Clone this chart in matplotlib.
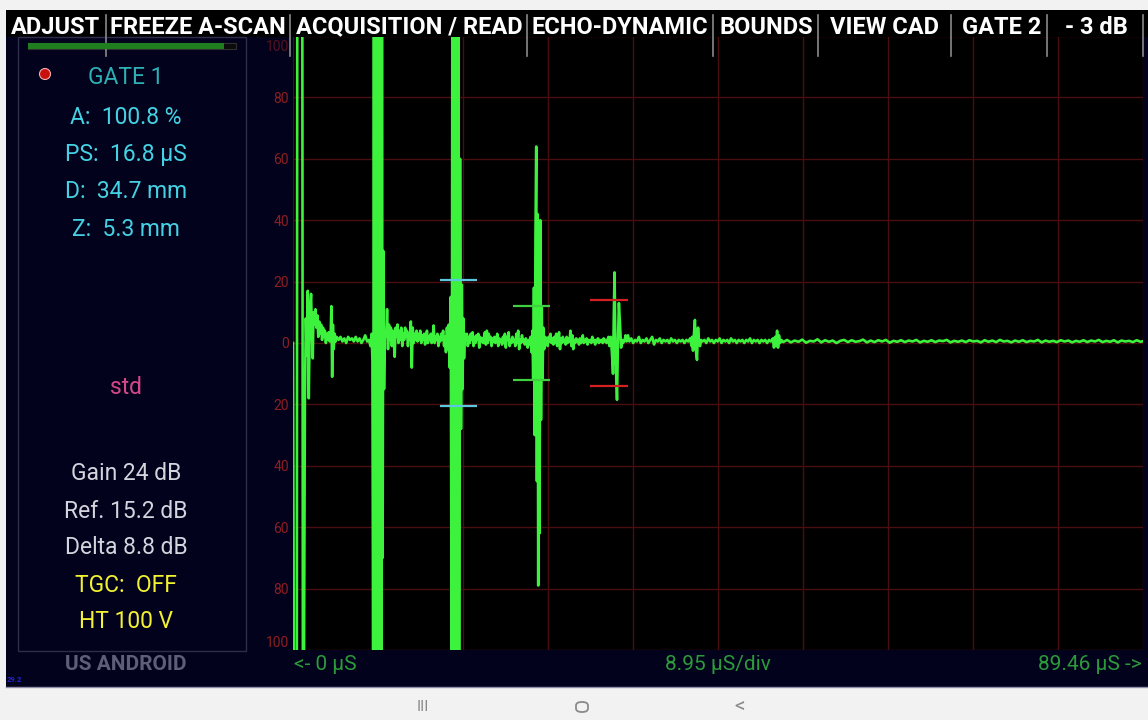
import matplotlib
matplotlib.use("Agg")
import matplotlib.pyplot as plt
from matplotlib.patches import Rectangle, Ellipse, FancyBboxPatch
from matplotlib.lines import Line2D
from matplotlib.ticker import MultipleLocator
from matplotlib.transforms import ScaledTranslation

plt.rcParams["font.family"] = ["Roboto", "DejaVu Sans"]

W, H = 1148, 720

# sweep settings
SWEEP_US = 89.46
US_PER_DIV = 8.946
AMP_TICKS = [-100, -80, -60, -40, -20, 0, 20, 40, 60, 80, 100]

# A-scan trace, (time in µs, amplitude in % FSH).
# saturated samples are above 100 % and run off the screen
main_bang = [
    (0.00, 0), (0.10, -110), (0.40, -110), (0.45, 110), (0.98, 110), (1.04, -110),
    (1.15, -110), (1.25, -20), (1.35, 8), (1.45, -4), (1.55, 17), (1.66, -18),
    (1.78, 10), (1.90, 16), (2.00, 3), (2.08, -5), (2.16, 10), (2.26, 6), (2.36, 11),
    (2.46, 5), (2.56, 9), (2.66, 2), (2.76, 7), (2.86, 3), (2.96, 6), (3.06, 1),
    (3.16, 5), (3.26, 2), (3.36, 4), (3.46, 0), (3.56, 3), (3.66, 1), (3.76, 3.5),
    (3.86, 0.5), (3.96, 2), (4.04, 12), (4.12, -11), (4.20, 6), (4.28, -2), (4.38, 3),
    (4.48, 0.5), (4.60, 2),
]
quiet_1 = [
    (4.8, 1), (5.0, 2), (5.2, 0.5), (5.4, 1.5), (5.6, 0), (5.8, 2), (6.0, 1),
    (6.2, 1.5), (6.4, 0.5), (6.6, 2), (6.8, 0.5), (7.0, 1.5), (7.2, 0), (7.4, 1),
    (7.6, 2.5), (7.8, 0.5), (8.0, 1), (8.15, -1),
]
echo_1 = [
    (8.28, 3), (8.36, -6), (8.44, -110), (8.52, 110), (8.59, -110), (8.66, 110),
    (8.73, -110), (8.80, 110), (8.87, -110), (8.94, 110), (9.01, -110), (9.08, 110),
    (9.15, -110), (9.22, 110), (9.29, -110), (9.36, 110), (9.43, -70), (9.50, 30),
    (9.58, -15),
]
noise_1 = [
    (9.68, 4), (9.80, 2), (9.90, 11), (10.00, -2), (10.10, 6), (10.20, 1), (10.30, 5),
    (10.40, -1), (10.50, 4), (10.60, 1), (10.70, -4.5), (10.80, 5), (10.90, 2),
    (11.00, 6), (11.10, 0), (11.20, 4), (11.30, 1), (11.40, 5), (11.50, -1),
    (11.60, 3), (11.70, 1), (11.80, 5), (11.90, 2), (12.00, 4), (12.10, -1),
    (12.20, 3), (12.30, 1), (12.40, 7), (12.50, -8), (12.60, 5), (12.70, 0),
    (12.80, 3), (12.90, 1), (13.00, 4), (13.10, 0.5), (13.20, 3), (13.30, 1),
    (13.40, 4), (13.50, 0), (13.60, 2.5), (13.70, 1), (13.80, 3), (13.90, -0.5),
    (14.00, 2), (14.10, 4), (14.20, 0), (14.30, 2), (14.40, 1), (14.50, 3),
    (14.60, 0), (14.70, 2), (14.80, 5.7), (14.90, 0), (15.00, 2), (15.10, 1),
    (15.20, 3), (15.30, -1), (15.40, 2), (15.50, 0.5), (15.60, 3), (15.70, 1),
    (15.80, 4), (15.90, -1), (16.00, 2), (16.10, -3), (16.20, 5), (16.30, -2),
]
echo_2 = [
    (16.40, 6), (16.50, -8), (16.60, 15), (16.70, -110), (16.77, 110), (16.84, -110),
    (16.91, 110), (16.98, -110), (17.05, 110), (17.20, -110), (17.27, 110),
    (17.34, -110), (17.41, 110), (17.48, -110), (17.58, 60), (17.68, -28),
    (17.76, 19), (17.84, -15), (17.92, 8), (18.00, -5), (18.10, 3),
]
noise_2 = [
    (18.2, 1), (18.3, 3), (18.4, -1), (18.5, 2), (18.6, 0), (18.7, 3), (18.8, 1),
    (18.9, 3.5), (19.0, -1), (19.1, 2), (19.2, 0), (19.3, 2.5), (19.4, 1), (19.5, 3),
    (19.6, -1.5), (19.7, 2), (19.8, 0.5), (19.9, 1.5), (20.0, 0), (20.1, 2),
    (20.2, 3.5), (20.3, -0.5), (20.4, 4), (20.5, 0), (20.6, 3), (20.7, 1), (20.8, 2),
    (20.9, -1), (21.0, 1.5), (21.1, 0.5), (21.2, 2), (21.3, 0), (21.4, 1), (21.5, 3),
    (21.6, -1), (21.7, 1.5), (21.8, 0.5), (21.9, 1), (22.0, -0.5), (22.1, 2),
    (22.2, 0), (22.3, 3), (22.4, -1.5), (22.5, 2), (22.6, 1), (22.7, 3.5), (22.8, -1),
    (22.9, 1), (23.0, 0), (23.1, 2), (23.2, 0.5), (23.3, 1), (23.4, -1), (23.5, 3),
    (23.6, 0), (23.7, 4), (23.8, -2), (23.9, 1), (24.0, 0), (24.1, 2.5), (24.2, 0.5),
    (24.3, 1), (24.4, -0.5), (24.5, 1.5), (24.6, 0), (24.7, -1.5), (24.8, 1),
    (24.9, -0.5), (25.0, 2), (25.1, -3),
]
echo_3 = [
    (25.20, 4), (25.28, -12), (25.36, 18), (25.44, -30), (25.52, 35), (25.60, 64),
    (25.67, -45), (25.74, 42), (25.81, -79), (25.88, 30), (25.95, -62), (26.02, 40),
    (26.10, -25), (26.18, 12), (26.26, -12), (26.34, 5), (26.44, -2), (26.55, 2),
]
noise_3 = [
    (26.7, 1), (26.8, -1), (26.9, 2), (27.0, 0.5), (27.1, 3), (27.2, 0), (27.3, 1.5),
    (27.4, -0.5), (27.5, 2), (27.6, 0), (27.7, 3), (27.8, -1), (27.9, 1), (28.0, 3.5),
    (28.1, -2), (28.2, 1.5), (28.3, 0), (28.4, 2), (28.5, 0.5), (28.6, 1),
    (28.7, -0.5), (28.8, 2), (28.9, 0), (29.0, 1.5), (29.1, 0.5), (29.2, 4),
    (29.3, -1), (29.4, 2.5), (29.5, -2), (29.6, 1), (29.7, 0), (29.8, 1.5),
    (29.9, 0.5), (30.0, 1), (30.1, -0.5), (30.2, 1.5), (30.3, 0), (30.4, 1),
    (30.5, 2.5), (30.6, 0), (30.7, 1), (30.8, 0.5), (30.9, 1.5), (31.0, -0.5),
    (31.1, 1), (31.2, 0.5), (31.3, 1), (31.4, 0), (31.5, 2), (31.6, 0.5), (31.7, 1),
    (31.8, -0.5), (31.9, 1), (32.0, 0.5), (32.1, 1.5), (32.2, 0), (32.3, 1),
    (32.4, 0.5), (32.5, 1), (32.6, 0), (32.7, 1.5), (32.8, 0.5), (32.9, 1), (33.0, 0),
    (33.1, 1), (33.2, 2), (33.3, -1),
]
echo_4 = [
    (33.45, 2), (33.58, -4), (33.68, -10), (33.76, 8), (33.84, 23), (33.95, -5),
    (34.10, -18.5), (34.20, 0), (34.30, 13), (34.42, 6), (34.53, -1.5), (34.64, 1),
    (34.74, 0), (34.90, 1), (35.00, 2.5), (35.10, 0.5), (35.26, 2.5),
]
noise_4 = [
    (35.4, 0.5), (35.6, 1.5), (35.8, 0), (36.0, 1), (36.2, 0.5), (36.4, 2), (36.6, 0),
    (36.8, 1), (37.0, 0.5), (37.2, 1.5), (37.4, 0), (37.6, 1), (37.8, 2), (38.0, -0.5),
    (38.2, 1), (38.4, 0.5), (38.6, 1.5), (38.8, 0), (39.0, 1), (39.2, 0.5), (39.4, 1),
    (39.6, 0), (39.8, 1.5), (40.0, 0.5), (40.2, 1), (40.4, 0), (40.6, 1), (40.8, 0.5),
    (41.0, 1), (41.2, 0), (41.4, 1), (41.6, 0.5), (41.8, 1.5), (41.95, -1),
]
echo_5 = [
    (42.00, 2), (42.10, -2.5), (42.20, 3), (42.30, 7.5), (42.42, -3), (42.52, -5.5),
    (42.63, 5), (42.74, 0), (42.84, -1), (42.95, 1), (43.10, 0.5),
]
noise_5 = [
    (43.3, 1), (43.5, 0), (43.7, 1.5), (43.9, 0.5), (44.1, 1), (44.3, 0), (44.5, 1),
    (44.7, 0.5), (44.9, 1.5), (45.1, 0), (45.3, 1), (45.5, 0.5), (45.7, 1), (45.9, 0),
    (46.1, 1.5), (46.3, 0.5), (46.5, 1), (46.7, 0), (46.9, 1), (47.1, 0.5), (47.3, 1),
    (47.5, 0), (47.7, 1), (47.9, 0.5), (48.1, 1.5), (48.3, 0), (48.5, 1), (48.7, 0.5),
    (48.9, 1), (49.1, 0), (49.3, 1), (49.5, 0.5), (49.7, 1), (49.9, 0), (50.1, 1),
    (50.3, 0.5),
]
echo_6 = [
    (50.50, 1.5), (50.62, -1.5), (50.74, 2), (50.85, -1), (50.95, 4), (51.05, -1.5),
    (51.15, 2.5), (51.26, 0), (51.40, 1),
]
tail = [
    (51.6, 0.3), (52.0, 1.0), (52.4, 0.2), (52.8, 0.8), (53.2, 0.4), (53.6, 1.1),
    (54.0, 0.1), (54.4, 0.7), (54.8, 0.5), (55.2, 1.2), (55.6, 0.2), (56.0, 0.9),
    (56.4, 0.4), (56.8, 0.8), (57.2, 0.0), (57.6, 0.7), (58.0, 1.0), (58.4, 0.3),
    (58.8, 0.9), (59.2, 0.4), (59.6, 0.6), (60.0, 1.1), (60.4, 0.2), (60.8, 0.8),
    (61.2, 0.3), (61.6, 0.9), (62.0, 0.5), (62.4, 1.0), (62.8, 0.1), (63.2, 0.7),
    (63.6, 0.4), (64.0, 0.9), (64.4, 0.3), (64.8, 0.8), (65.2, 0.5), (65.6, 1.0),
    (66.0, 0.2), (66.4, 0.7), (66.8, 0.4), (67.2, 0.9), (67.6, 0.3), (68.0, 0.8),
    (68.4, 0.6), (68.8, 1.0), (69.2, 0.2), (69.6, 0.7), (70.0, 0.4), (70.4, 0.8),
    (70.8, 0.3), (71.2, 0.9), (71.6, 0.5), (72.0, 0.7), (72.4, 0.2), (72.8, 0.9),
    (73.2, 0.4), (73.6, 0.8), (74.0, 0.3), (74.4, 1.0), (74.8, 0.5), (75.2, 0.7),
    (75.6, 0.2), (76.0, 0.8), (76.4, 0.4), (76.8, 0.9), (77.2, 0.3), (77.6, 0.7),
    (78.0, 0.5), (78.4, 1.0), (78.8, 0.2), (79.2, 0.8), (79.6, 0.4), (80.0, 0.7),
    (80.4, 0.3), (80.8, 0.9), (81.2, 0.5), (81.6, 0.8), (82.0, 0.2), (82.4, 0.7),
    (82.8, 0.4), (83.2, 0.9), (83.6, 0.3), (84.0, 0.8), (84.4, 0.5), (84.8, 1.0),
    (85.2, 0.3), (85.6, 0.7), (86.0, 0.4), (86.4, 0.9), (86.8, 0.2), (87.2, 0.8),
    (87.6, 0.5), (88.0, 0.7), (88.4, 0.3), (88.8, 0.9), (89.2, 0.4), (89.46, 0.6),
]

# gates: start µs, end µs, threshold %
gate_start = [15.47, 23.16, 31.26]
gate_end = [19.37, 27.05, 35.26]
gate_level = [20.5, 12.0, 14.0]
gate_colors = ["#5cc8e0", "#3fcf3f", "#d42020"]

header_labels = ["ADJUST", "FREEZE A-SCAN", "ACQUISITION / READ", "ECHO-DYNAMIC",
                 "BOUNDS", "VIEW CAD", "GATE 2", "- 3 dB"]
gate_readings = ["A:  100.8 %", "PS:  16.8 µS", "D:  34.7 mm", "Z:  5.3 mm"]
probe_mode = "std"
settings = ["Gain 24 dB", "Ref. 15.2 dB", "Delta 8.8 dB"]
status = ["TGC:  OFF", "HT 100 V"]

# layout (screen pixels)
header_x = [56, 198, 409, 620, 766, 884, 1002, 1096]
sep_x = [106, 290, 527, 713, 818, 951, 1047, 1143]
readings_y = [118, 155, 192, 229]
settings_y = [474, 511, 548]
status_y = [585, 622]


def fx(x):
    return x / W


def fy(y):
    return 1 - y / H


def rect(x0, y0, x1, y1, **kw):
    return Rectangle((fx(x0), fy(y1)), (x1 - x0) / W, (y1 - y0) / H,
                     transform=fig.transFigure, **kw)


fig = plt.figure(figsize=(W / 100, H / 100), dpi=100, facecolor="#f2f2f2")

# app background and header
fig.patches.append(rect(6, 10, W, 687, facecolor="#02021c", edgecolor="none", zorder=-1))
fig.patches.append(rect(6, 10, W, 37, facecolor="#000000", edgecolor="none", zorder=1))
fig.lines.append(Line2D([fx(6), fx(W)], [fy(687), fy(687)], transform=fig.transFigure,
                        color="#9090a8", lw=1, zorder=1))

# scope
ax = fig.add_axes([fx(293), fy(650), 850 / W, 614 / H])
ax.set_facecolor("black")
ax.set_xlim(0, SWEEP_US)
ax.set_ylim(-100, 100)
ax.xaxis.set_major_locator(MultipleLocator(US_PER_DIV))
ax.set_yticks(AMP_TICKS)
ax.set_yticklabels([str(abs(v)) for v in AMP_TICKS])
ax.tick_params(axis="x", length=0, labelbottom=False)
ax.tick_params(axis="y", length=0, pad=3, labelsize=10, labelcolor="#8c1e22")
ax.get_yticklabels()[0].set_va("bottom")
top_label = ax.get_yticklabels()[-1]
top_label.set_va("top")
top_label.set_alpha(0.6)
top_label.set_transform(top_label.get_transform()
                        + ScaledTranslation(0, -3 / 72, fig.dpi_scale_trans))
ax.grid(True, color="#4a0e10", lw=1)
ax.set_axisbelow(True)
for s in ax.spines.values():
    s.set_visible(False)

trace = (main_bang + quiet_1 + echo_1 + noise_1 + echo_2 + noise_2 + echo_3 + noise_3
         + echo_4 + noise_4 + echo_5 + noise_5 + echo_6 + tail)
t_us, amp = zip(*trace)
ax.plot(t_us, amp, color="#3cf23c", lw=1.9, zorder=3)

for x0, x1, lvl, c in zip(gate_start, gate_end, gate_level, gate_colors):
    ax.hlines([lvl, -lvl], x0, x1, colors=c, lw=1.6, zorder=4)

# header menu
for x, lab in zip(header_x, header_labels):
    fig.text(fx(x), fy(27), lab, ha="center", va="center", color="white",
             fontsize=17, fontweight="bold", zorder=3)
for x in sep_x:
    fig.lines.append(Line2D([fx(x), fx(x)], [fy(15), fy(56)], transform=fig.transFigure,
                            color="#8a8a8a", lw=1.2, zorder=2))

# left panel
fig.patches.append(rect(18, 37, 246, 651, facecolor="none", edgecolor="#2e2e4c",
                        lw=1, zorder=1))
fig.patches.append(rect(28, 43, 236, 49, facecolor="#0c0c0c", edgecolor="#303030",
                        lw=0.8, zorder=1))
fig.patches.append(rect(28, 43, 224, 49, facecolor="#1f7f1f", edgecolor="none", zorder=2))
fig.patches.append(Ellipse((fx(45), fy(74)), 11 / W, 11 / H, transform=fig.transFigure,
                           facecolor="#c8100e", edgecolor="#f0b0b0", lw=0.8, zorder=3))
fig.text(fx(126), fy(77), "GATE 1", ha="center", va="center", color="#2cb0b4",
         fontsize=16.5)
for y, s in zip(readings_y, gate_readings):
    fig.text(fx(126), fy(y), s, ha="center", va="center", color="#44d2e4", fontsize=16.5)
fig.text(fx(126), fy(388), probe_mode, ha="center", va="center", color="#d4488a",
         fontsize=16.5)
for y, s in zip(settings_y, settings):
    fig.text(fx(126), fy(y), s, ha="center", va="center", color="#d4d4de", fontsize=16.5)
for y, s in zip(status_y, status):
    fig.text(fx(126), fy(y), s, ha="center", va="center", color="#f2f232", fontsize=16.5)
fig.text(fx(126), fy(665), "US ANDROID", ha="center", va="center", color="#5e5e78",
         fontsize=15, fontweight="bold")
fig.text(fx(7), fy(679), "29.2", ha="left", va="center", color="#2626c8",
         fontsize=5.5, fontweight="bold")

# sweep labels
fig.text(fx(294), fy(665), "<- 0 µS", ha="left", va="center", color="#2c9a3a",
         fontsize=15)
fig.text(fx(718), fy(665), f"{US_PER_DIV:.2f} µS/div", ha="center", va="center",
         color="#2c9a3a", fontsize=15)
fig.text(fx(1142), fy(665), f"{SWEEP_US:.2f} µS ->", ha="right", va="center",
         color="#2c9a3a", fontsize=15)

# android nav bar
fig.text(fx(423), fy(707), "III", ha="center", va="center", color="#8a8a8a",
         fontsize=11)
fig.patches.append(FancyBboxPatch((fx(576), fy(712)), 12 / W, 10 / H,
                                  boxstyle="round,pad=0,rounding_size=0.005",
                                  transform=fig.transFigure, facecolor="none",
                                  edgecolor="#8a8a8a", lw=1.3, zorder=2))
fig.text(fx(740), fy(707), "<", ha="center", va="center", color="#8a8a8a",
         fontsize=15)

fig.savefig("out.png", dpi=100, facecolor=fig.get_facecolor())
